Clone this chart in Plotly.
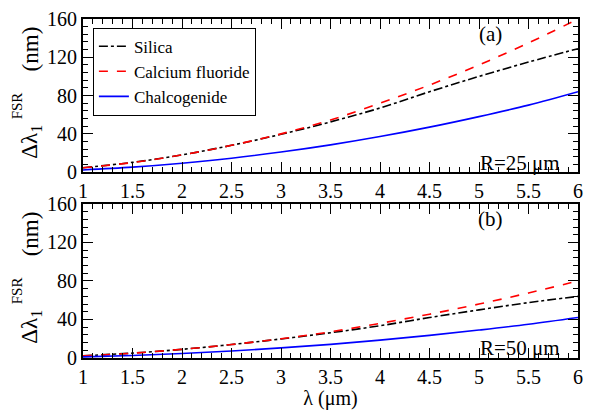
import plotly.graph_objects as go

# Wavelength grid (µm)
wavelength = [1.0, 1.5, 2.0, 2.5, 3.0, 3.5, 4.0, 4.5, 5.0, 5.5, 6.0]

# Free spectral range (nm), R = 25 µm
silica_25 = [4.6, 10.2, 18.0, 28.0, 39.5, 52.5, 67.0, 84.0, 100.0, 115.0, 129.0]
caf2_25 = [4.5, 10.0, 18.0, 28.0, 40.0, 54.5, 72.0, 91.0, 112.0, 135.0, 160.0]
chalco_25 = [2.3, 5.2, 9.3, 14.5, 21.0, 28.5, 37.2, 47.0, 58.0, 70.0, 84.0]

# Free spectral range (nm), R = 50 µm
silica_50 = [2.3, 5.1, 9.0, 14.0, 19.8, 26.2, 33.5, 42.0, 50.0, 57.5, 64.0]
caf2_50 = [2.2, 5.0, 9.0, 14.0, 20.0, 27.2, 36.0, 45.5, 56.0, 67.5, 80.0]
chalco_50 = [1.2, 2.6, 4.6, 7.2, 10.5, 14.2, 18.6, 23.5, 29.0, 35.0, 42.0]

series = [
    ("Silica", "black", "dashdot", silica_25, silica_50),
    ("Calcium fluoride", "red", "dash", caf2_25, caf2_50),
    ("Chalcogenide", "blue", "solid", chalco_25, chalco_50),
]

FONT = "serif"
W, H = 591, 410
ML, MR, MT, MB = 83, 8, 14, 44
PW, PH = W - ML - MR, H - MT - MB

fig = go.Figure()
for name, color, dash, top, bottom in series:
    fig.add_trace(go.Scatter(x=wavelength, y=top, mode="lines", name=name,
                             line=dict(color=color, dash=dash, width=1.6, shape="spline"),
                             xaxis="x", yaxis="y"))
    fig.add_trace(go.Scatter(x=wavelength, y=bottom, mode="lines", name=name,
                             showlegend=False,
                             line=dict(color=color, dash=dash, width=1.6, shape="spline"),
                             xaxis="x2", yaxis="y2"))


def py(v):
    # pixel row -> paper fraction
    return (H - MB - v) / PH


def px(v):
    # pixel column -> paper fraction
    return (v - ML) / PW


axis_common = dict(
    showline=True, linecolor="black", linewidth=1.8, mirror="allticks",
    ticks="inside", ticklen=10, tickwidth=1.2, tickcolor="black",
    showgrid=False, zeroline=False,
    tickfont=dict(family=FONT, size=20, color="black"),
)
xax = dict(axis_common, range=[1, 6], dtick=0.5, tick0=1,
           minor=dict(dtick=0.1, ticks="inside", ticklen=5, tickwidth=1, tickcolor="black"))
yax = dict(axis_common, range=[0, 160], dtick=40, tick0=0,
           minor=dict(dtick=8, ticks="inside", ticklen=5, tickwidth=1, tickcolor="black"))

fig.update_layout(
    width=W, height=H,
    margin=dict(l=ML, r=MR, t=MT, b=MB),
    paper_bgcolor="white", plot_bgcolor="white",
    font=dict(family=FONT, color="black"),
    xaxis=dict(xax, domain=[0, 1], anchor="y"),
    yaxis=dict(yax, domain=[py(173), 1.0], anchor="x"),
    xaxis2=dict(xax, domain=[0, 1], anchor="y2",
                title=dict(text="λ (μm)", font=dict(family=FONT, size=20), standoff=0)),
    yaxis2=dict(yax, domain=[0, py(206)], anchor="x2"),
    showlegend=True,
    legend=dict(x=px(93), y=py(23), xanchor="left", yanchor="top",
                bordercolor="black", borderwidth=1, bgcolor="white",
                font=dict(family=FONT, size=17), tracegroupgap=0,
                itemwidth=30),
)

annotations = []
for off, tag, rlab in [(0, "(a)", "R=25 μm"), (192, "(b)", "R=50 μm")]:
    common = dict(xref="paper", yref="paper", showarrow=False,
                  xanchor="center", yanchor="middle")
    annotations += [
        dict(common, text=tag, x=px(495), y=py(30 + off),
             font=dict(family=FONT, size=21)),
        dict(common, text=rlab, x=px(524), y=py(164 + off),
             font=dict(family=FONT, size=21)),
        dict(common, text="Δλ<sub>1</sub>", x=px(31), y=py(142 + off),
             textangle=-90, font=dict(family=FONT, size=23)),
        dict(common, text="FSR", x=px(16), y=py(104 + off),
             textangle=-90, font=dict(family=FONT, size=15)),
        dict(common, text="(nm)", x=px(30), y=py(45 + off),
             textangle=-90, font=dict(family=FONT, size=23)),
    ]
fig.update_layout(annotations=annotations)

fig.write_html("out.html")
